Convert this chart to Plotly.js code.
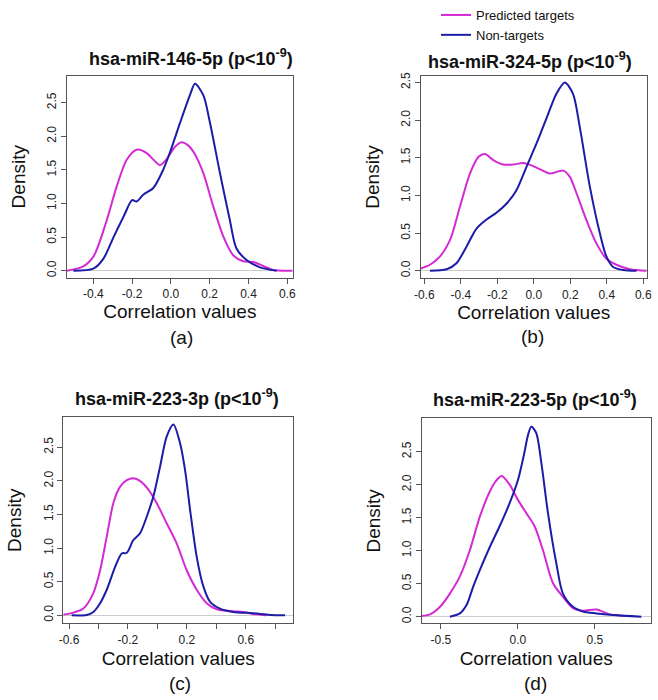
<!DOCTYPE html>
<html>
<head>
<meta charset="utf-8">
<script src="https://cdn.plot.ly/plotly-3.0.1.min.js"></script>
<style>html,body{margin:0;padding:0;background:#fff;}#chart{width:658px;height:700px;}</style>
</head>
<body>
<div id="chart"></div>
<script>
// ---- data ----
const seriesNames = ["Predicted targets", "Non-targets"];
const panelTitles = ["hsa-miR-146-5p", "hsa-miR-324-5p", "hsa-miR-223-3p", "hsa-miR-223-5p"];
const panelLetters = ["(a)", "(b)", "(c)", "(d)"];

// (a) hsa-miR-146-5p
const aPredX = [-0.537,-0.455,-0.40,-0.331,-0.28,-0.228,-0.177,-0.125,-0.09,-0.057,-0.022,0.02,0.055,0.09,0.12,0.167,0.219,0.27,0.321,0.373,0.425,0.476,0.528,0.627];
const aPredY = [0,0.06,0.21,0.75,1.25,1.65,1.80,1.75,1.65,1.57,1.66,1.84,1.91,1.86,1.75,1.45,0.95,0.51,0.23,0.14,0.13,0.07,0.01,0];
const aNonX  = [-0.503,-0.40,-0.348,-0.296,-0.245,-0.20,-0.177,-0.143,-0.091,-0.04,0.0,0.046,0.098,0.124,0.167,0.20,0.253,0.304,0.338,0.39,0.459,0.545];
const aNonY  = [0,0.03,0.18,0.5,0.8,1.05,1.03,1.13,1.23,1.5,1.8,2.19,2.61,2.78,2.61,2.22,1.45,0.75,0.33,0.16,0.05,0];

// (b) hsa-miR-324-5p
const bPredX = [-0.62,-0.569,-0.514,-0.459,-0.405,-0.35,-0.304,-0.268,-0.222,-0.168,-0.113,-0.058,-0.004,0.05,0.088,0.161,0.197,0.234,0.289,0.344,0.398,0.453,0.527,0.619];
const bPredY = [0.03,0.08,0.19,0.41,0.85,1.29,1.51,1.55,1.47,1.41,1.41,1.43,1.39,1.33,1.29,1.33,1.25,1.03,0.67,0.36,0.16,0.08,0.02,0];
const bNonX  = [-0.569,-0.478,-0.424,-0.369,-0.314,-0.259,-0.205,-0.15,-0.095,-0.04,0.015,0.069,0.124,0.17,0.215,0.252,0.307,0.362,0.398,0.435,0.49,0.563];
const bNonY  = [0,0.02,0.1,0.32,0.56,0.68,0.77,0.89,1.07,1.38,1.69,2.02,2.35,2.5,2.35,1.91,1.12,0.5,0.19,0.05,0.01,0];

// (c) hsa-miR-223-3p
const cPredX = [-0.639,-0.571,-0.503,-0.435,-0.389,-0.344,-0.299,-0.254,-0.208,-0.163,-0.118,-0.061,-0.005,0.063,0.131,0.199,0.267,0.335,0.403,0.516,0.584,0.652,0.743];
const cPredY = [0.01,0.04,0.1,0.33,0.67,1.17,1.67,1.91,2.01,2.04,2.0,1.87,1.67,1.37,1.07,0.67,0.38,0.18,0.09,0.06,0.05,0.02,0];
const cNonX  = [-0.582,-0.48,-0.435,-0.389,-0.344,-0.287,-0.242,-0.208,-0.163,-0.118,-0.072,-0.027,0.018,0.063,0.109,0.154,0.188,0.222,0.267,0.312,0.358,0.425,0.516,0.652,0.765,0.867];
const cNonY  = [0,0.005,0.05,0.18,0.38,0.72,0.92,0.93,1.12,1.22,1.47,1.77,2.21,2.66,2.84,2.56,2.16,1.57,0.87,0.43,0.2,0.1,0.05,0.03,0.005,0];

// (d) hsa-miR-223-5p
const dPredX = [-0.626,-0.571,-0.506,-0.442,-0.377,-0.312,-0.247,-0.182,-0.145,-0.106,-0.054,0,0.054,0.108,0.162,0.227,0.292,0.357,0.422,0.509,0.595,0.66,0.747];
const dPredY = [0.01,0.035,0.15,0.35,0.61,1.01,1.52,1.9,2.05,2.13,2.0,1.77,1.57,1.37,1.01,0.51,0.3,0.13,0.09,0.11,0.035,0.02,0.01];
const dNonX  = [-0.442,-0.377,-0.333,-0.29,-0.247,-0.182,-0.119,-0.054,0,0.043,0.065,0.087,0.119,0.152,0.195,0.249,0.292,0.357,0.422,0.509,0.617,0.801];
const dNonY  = [0,0.05,0.18,0.46,0.71,1.06,1.37,1.72,2.07,2.5,2.75,2.88,2.78,2.33,1.57,0.81,0.35,0.15,0.08,0.05,0.025,0];

const yTickVals = [0, 0.5, 1, 1.5, 2, 2.5];
const yTickText = ["0.0", "0.5", "1.0", "1.5", "2.0", "2.5"];
const aXTickVals = [-0.4,-0.2,0,0.2,0.4,0.6];
const aXTickText = ["-0.4","-0.2","0.0","0.2","0.4","0.6"];
const bXTickVals = [-0.6,-0.4,-0.2,0,0.2,0.4,0.6];
const bXTickText = ["-0.6","-0.4","-0.2","0.0","0.2","0.4","0.6"];
const cXTickVals = [-0.6,-0.2,0.2,0.6];
const cXTickText = ["-0.6","-0.2","0.2","0.6"];
const cXMinorVals = [-0.4,0,0.4,0.8];
const dXTickVals = [-0.5,0,0.5];
const dXTickText = ["-0.5","0.0","0.5"];

// ---- styling ----
const PRED = "#d42ad4";
const NON = "#1c1ca8";
const FONT = "Liberation Sans, Arial, sans-serif";
const W = 658, H = 700;

const panels = [
  {px:[aPredX,aPredY], nx:[aNonX,aNonY], xr:[-0.536,0.628], yr:[-0.104,2.90], box:[67,75.7,292.7,277.7], tv:aXTickVals, tt:aXTickText, mv:null, title:[191,58], letter:[181,337], so:1},
  {px:[bPredX,bPredY], nx:[bNonX,bNonY], xr:[-0.62,0.619], yr:[-0.10,2.59], box:[420.7,75.7,646.7,278.3], tv:bXTickVals, tt:bXTickText, mv:null, title:[530,60], letter:[532,336], so:0},
  {px:[cPredX,cPredY], nx:[cNonX,cNonY], xr:[-0.639,0.923], yr:[-0.119,2.946], box:[63.3,417.3,293.3,623.3], tv:cXTickVals, tt:cXTickText, mv:cXMinorVals, title:[177,397], letter:[180,683], so:5},
  {px:[dPredX,dPredY], nx:[dNonX,dNonY], xr:[-0.625,0.862], yr:[-0.10,3.006], box:[421.7,418.3,650.7,623.3], tv:dXTickVals, tt:dXTickText, mv:null, title:[535,399], letter:[535,683], so:5}
];

const traces = [];
const layout = {
  width: W, height: H,
  margin: {l:0, r:0, t:0, b:0},
  paper_bgcolor: "#fff", plot_bgcolor: "#fff",
  font: {family: FONT, color: "#222"},
  showlegend: true,
  legend: {x: 436/W, y: 1, xanchor: "left", yanchor: "top", font: {size: 13, family: FONT, color: "#111"},
           bgcolor: "rgba(0,0,0,0)", tracegroupgap: 0, itemwidth: 30},
  annotations: [],
  shapes: []
};

panels.forEach((p, i) => {
  const n = i + 1;
  const xa = n === 1 ? "x" : "x" + n;
  const ya = n === 1 ? "y" : "y" + n;
  traces.push({x: p.px[0], y: p.px[1], type: "scatter", mode: "lines", name: seriesNames[0],
    line: {color: PRED, width: 2, shape: "spline", smoothing: 0.8}, xaxis: xa, yaxis: ya,
    showlegend: i === 0, legendgroup: "pred", hoverinfo: "skip"});
  traces.push({x: p.nx[0], y: p.nx[1], type: "scatter", mode: "lines", name: seriesNames[1],
    line: {color: NON, width: 2, shape: "spline", smoothing: 0.8}, xaxis: xa, yaxis: ya,
    showlegend: i === 0, legendgroup: "non", hoverinfo: "skip"});
  const [l, t, r, b] = p.box;
  const xKey = n === 1 ? "xaxis" : "xaxis" + n;
  const yKey = n === 1 ? "yaxis" : "yaxis" + n;
  layout[xKey] = {
    domain: [l / W, r / W], anchor: ya, range: p.xr,
    tickmode: "array", tickvals: p.tv, ticktext: p.tt, ticks: "outside", ticklen: 5, tickcolor: "#555",
    tickfont: {size: 12, family: FONT, color: "#222"},
    showline: true, linecolor: "#555", linewidth: 1, mirror: true,
    showgrid: false, zeroline: false,
    title: {text: "Correlation values", font: {size: 19, family: FONT, color: "#111"}, standoff: p.so}
  };
  if (p.mv) {
    layout[xKey].minor = {tickmode: "array", tickvals: p.mv, ticks: "outside", ticklen: 5, tickcolor: "#555", showgrid: false};
  }
  layout[yKey] = {
    domain: [1 - b / H, 1 - t / H], anchor: xa, range: p.yr,
    tickmode: "array", tickvals: yTickVals, ticktext: yTickText, ticks: "outside", ticklen: 5, tickcolor: "#555",
    tickangle: -90, tickfont: {size: 12, family: FONT, color: "#222"},
    showline: true, linecolor: "#555", linewidth: 1, mirror: true,
    showgrid: false, zeroline: true, zerolinecolor: "#cccccc", zerolinewidth: 1,
    title: {text: "Density", font: {size: 19, family: FONT, color: "#111"}, standoff: 14}
  };
  layout.annotations.push({
    xref: "paper", yref: "paper", x: p.title[0] / W, y: 1 - p.title[1] / H,
    xanchor: "center", yanchor: "middle", showarrow: false,
    text: "<b>" + panelTitles[i] + " (p&lt;10<sup>-9</sup>)</b>",
    font: {size: 18, family: FONT, color: "#111"}
  });
  layout.annotations.push({
    xref: "paper", yref: "paper", x: p.letter[0] / W, y: 1 - p.letter[1] / H,
    xanchor: "center", yanchor: "middle", showarrow: false,
    text: panelLetters[i], font: {size: 19, family: FONT, color: "#111"}
  });
});

Plotly.newPlot("chart", traces, layout, {staticPlot: true, displayModeBar: false});
</script>
</body>
</html>
